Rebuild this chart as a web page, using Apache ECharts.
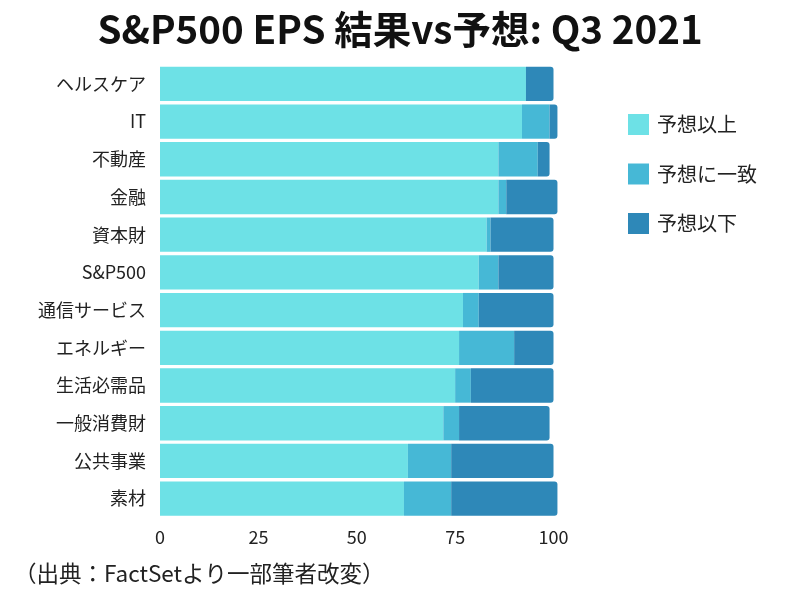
<!DOCTYPE html>
<html>
<head>
<meta charset="utf-8">
<script src="https://cdn.jsdelivr.net/npm/echarts@6/dist/echarts.min.js"></script>
<style>html,body{margin:0;padding:0;background:#fff;}#c{width:800px;height:600px;}</style>
</head>
<body>
<div id="c"></div>
<script>
const categories = ['ヘルスケア','IT','不動産','金融','資本財','S&P500','通信サービス','エネルギー','生活必需品','一般消費財','公共事業','素材'];
const beat = [93, 92, 86, 86, 83, 81, 77, 76, 75, 72, 63, 62];
const inline = [0, 7, 10, 2, 1, 5, 4, 14, 4, 4, 11, 12];
const miss = [7, 2, 3, 13, 16, 14, 19, 10, 21, 23, 26, 27];
const seriesNames = ['予想以上', '予想に一致', '予想以下'];
const xTicks = [0, 25, 50, 75, 100];
const titleText = 'S&P500 EPS 結果vs予想: Q3 2021';
const sourceText = '（出典：FactSetより一部筆者改変）';

const FONT = '"Noto Sans CJK JP", "Noto Sans", sans-serif';
const colors = ['#6de1e6', '#46b8d6', '#2e88b8'];
const chart = echarts.init(document.getElementById('c'));
const barBase = {
  type: 'bar', stack: 'total', clip: false,
  barCategoryGap: '9%'
};
chart.setOption({
  animation: false,
  backgroundColor: '#ffffff',
  title: {
    text: titleText, left: 'center', top: 5,
    textStyle: { fontFamily: FONT, fontSize: 38.5, fontWeight: 'bold', color: '#111' }
  },
  legend: {
    orient: 'vertical', left: 623, top: 109,
    itemWidth: 21, itemHeight: 21, itemGap: 28.5,
    icon: 'rect',
    data: seriesNames,
    textStyle: { fontFamily: FONT, fontSize: 20, color: '#222', padding: [0, 0, 0, 3] }
  },
  grid: { left: 160, right: 246.5, top: 65, bottom: 82.5 },
  xAxis: {
    type: 'value', min: 0, max: 100, interval: 25,
    axisLine: { show: false }, axisTick: { show: false }, splitLine: { show: false },
    axisLabel: {
      fontFamily: FONT, fontSize: 18, color: '#222', margin: 11,
      formatter: v => xTicks.includes(v) ? String(v) : ''
    }
  },
  yAxis: {
    type: 'category', data: categories, inverse: true,
    axisLine: { show: false }, axisTick: { show: false }, splitLine: { show: false },
    axisLabel: { fontFamily: FONT, fontSize: 18, color: '#222', margin: 14 }
  },
  series: [
    Object.assign({}, barBase, { name: seriesNames[0], data: beat, itemStyle: { color: colors[0] } }),
    Object.assign({}, barBase, { name: seriesNames[1], data: inline, itemStyle: { color: colors[1] } }),
    Object.assign({}, barBase, { name: seriesNames[2], data: miss, itemStyle: { color: colors[2], borderRadius: [0, 3, 3, 0] } })
  ],
  graphic: [{
    type: 'text', left: 14, top: 562,
    style: { text: sourceText, fontFamily: FONT, fontSize: 22.5, fill: '#222' }
  }]
});
</script>
</body>
</html>
